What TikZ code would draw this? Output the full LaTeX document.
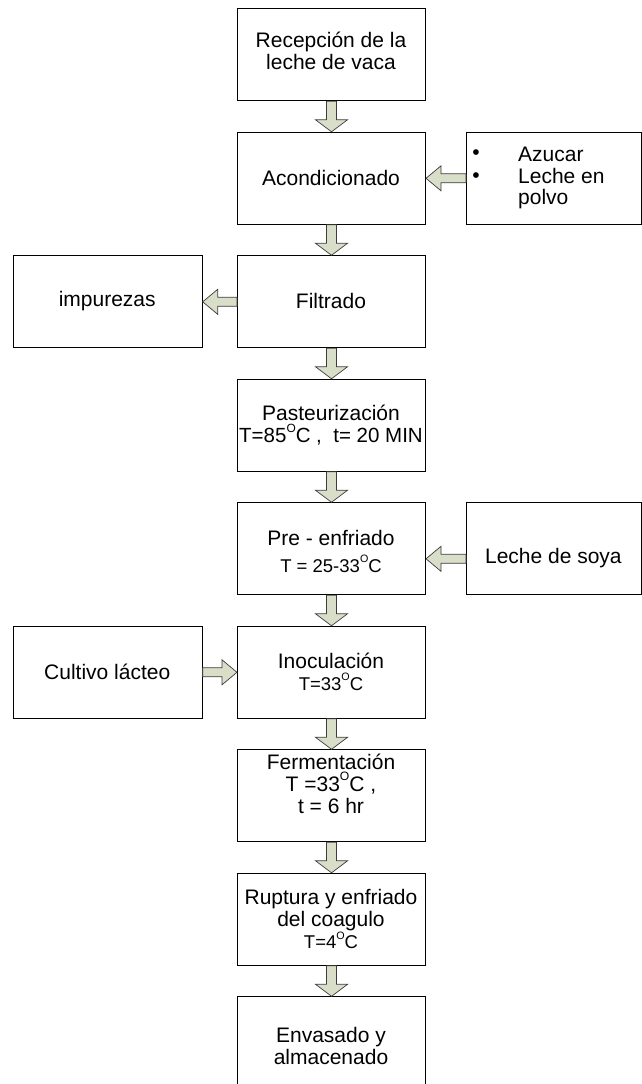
\documentclass[tikz,border=0pt]{standalone}
\usepackage{fontspec}
\usepackage{graphicx}
\setmainfont{Liberation Sans}
\usetikzlibrary{calc}

\definecolor{arrowfill}{RGB}{216,222,200}
\definecolor{arrowline}{RGB}{60,60,60}

% raised capital O used as a degree sign
\newcommand{\supO}{\raisebox{0.5em}{\scalebox{0.58}{O}}}
\newcommand{\smalltxt}{\fontsize{18.5}{20}\selectfont}

% hollow block arrow pointing down from the bottom of #1 to the top of #2
\newcommand{\vflow}[2]{%
  \path[blockarrow] ($(#1.south)+(-5,0)$) -- ($(#2.north)+(-5,-12)$)
    -- ($(#2.north)+(-16,-12)$) -- (#2.north) -- ($(#2.north)+(16,-12)$)
    -- ($(#2.north)+(5,-12)$) -- ($(#1.south)+(5,0)$) -- cycle;}

% hollow block arrow running horizontally from point #1 to tip #2
\newcommand{\hflow}[2]{%
  \coordinate (hb) at ($(#2)!15pt!(#1)$);
  \path[blockarrow] ($(#1)+(0,-4.5)$) -- ($(hb)+(0,-4.5)$) -- ($(hb)+(0,-12.5)$)
    -- (#2) -- ($(hb)+(0,12.5)$) -- ($(hb)+(0,4.5)$) -- ($(#1)+(0,4.5)$) -- cycle;}

\tikzset{
  stage/.style={draw=black, line width=1pt, minimum width=188pt,
    minimum height=92pt, inner sep=0pt, anchor=north west},
  sidebox/.style={stage, minimum width=#1},
  lbl/.style={align=center, inner sep=0pt, font=\fontsize{21}{22}\selectfont},
  blockarrow/.style={draw=arrowline, line width=0.7pt, fill=arrowfill},
}

\begin{document}
\begin{tikzpicture}[x=1pt, y=-1pt]
\useasboundingbox (0,0) rectangle (642,1084);
\clip (0,0) rectangle (642,1084);

% main process column
\node[stage] (s1) at (237,8.3)   {};
\node[stage] (s2) at (237,131.8) {};
\node[stage] (s3) at (237,255.3) {};
\node[stage] (s4) at (237,378.8) {};
\node[stage] (s5) at (237,502.3) {};
\node[stage] (s6) at (237,625.8) {};
\node[stage] (s7) at (237,749.3) {};
\node[stage] (s8) at (237,872.8) {};
\node[stage] (s9) at (237,996.3) {};

% inputs and outputs at the sides
\node[sidebox=175pt] (r2) at (466,131.8) {};
\node[sidebox=189pt] (l3) at (12.7,255.3) {};
\node[sidebox=175pt] (r5) at (466,502.3) {};
\node[sidebox=189pt] (l6) at (12.7,625.8) {};

% labels
\node[lbl] (t1) at (331,51) {Recepción de la\\leche de vaca};
\node[lbl] (t2) at (331,177.5) {Acondicionado};
\node[lbl] (t3) at (331,301) {Filtrado};
\node[lbl] (t4) at (331,425) {Pasteurización\\{\fontsize{20.5}{22}\selectfont T=85\supO C ,\ \ t= 20 MIN}};
\node[lbl] (t5) at (331,551) {Pre - enfriado\\[5pt]{\smalltxt T = 25-33\supO C}};
\node[lbl] (t6) at (331,671.5) {Inoculación\\{\smalltxt T=33\supO C}};
\node[lbl] (t7) at (331,783.5) {Fermentación\\T =33\supO C ,\\t = 6 hr};
\node[lbl] (t8) at (331,919) {Ruptura y enfriado\\del coagulo\\{\smalltxt T=4\supO C}};
\node[lbl] (t9) at (331,1046) {Envasado y\\almacenado};

\node[lbl] (b1) at (476,155) {•};
\node[lbl] (b2) at (476,177.7) {•};
\node[lbl, align=left, anchor=north west, font=\fontsize{21}{21.5}\selectfont]
  (t2r) at (518,147) {Azucar\\Leche en\\polvo};
\node[lbl] (t3l) at (107.2,301) {impurezas};
\node[lbl] (t5r) at (553.4,558.5) {Leche de soya};
\node[lbl] (t6l) at (107.2,672) {Cultivo lácteo};

% flow between stages
\vflow{s1}{s2}
\vflow{s2}{s3}
\vflow{s3}{s4}
\vflow{s4}{s5}
\vflow{s5}{s6}
\vflow{s6}{s7}
\vflow{s7}{s8}
\vflow{s8}{s9}

% side flows
\hflow{r2.west}{s2.east}
\hflow{s3.west}{l3.east}
\coordinate (f5a) at ($(r5.west)+(0,10)$);
\coordinate (f5b) at ($(s5.east)+(0,10)$);
\hflow{f5a}{f5b}
\hflow{l6.east}{s6.west}
\end{tikzpicture}
\end{document}
